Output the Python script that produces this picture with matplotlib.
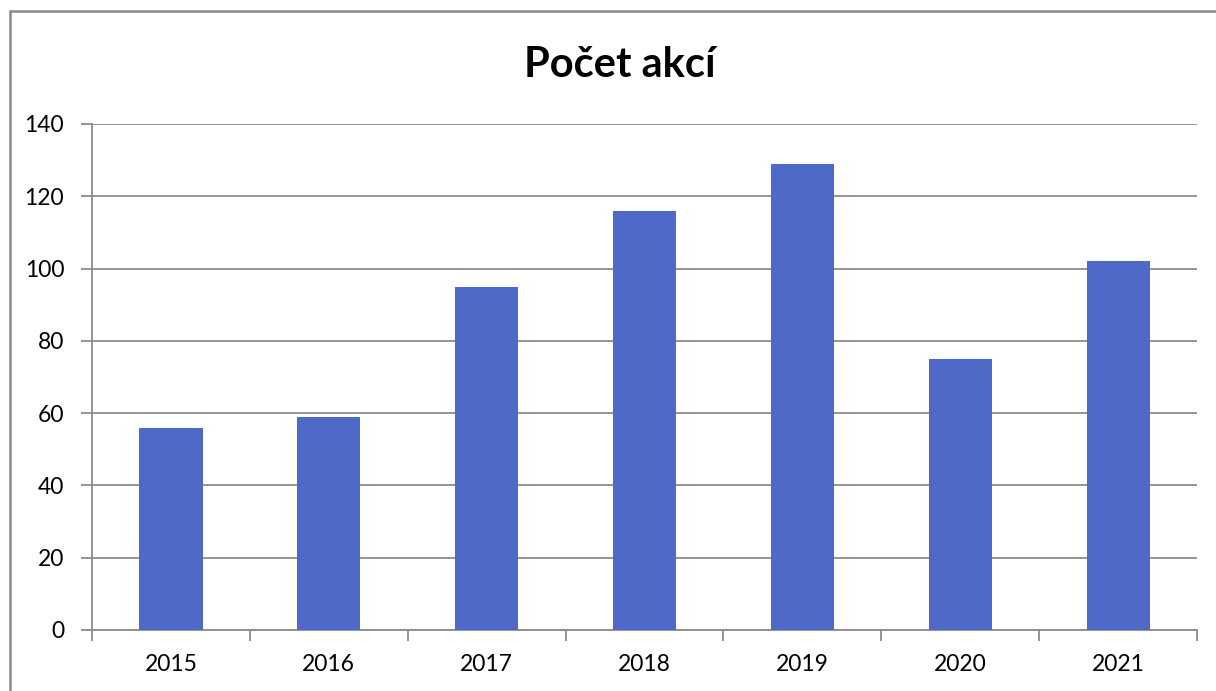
import matplotlib
matplotlib.use("Agg")
import matplotlib.pyplot as plt
from matplotlib.patches import Rectangle

years = ["2015", "2016", "2017", "2018", "2019", "2020", "2021"]
counts = [56, 59, 95, 116, 129, 75, 102]
title = "Počet akcí"

plt.rcParams['font.family'] = ['Lato', 'DejaVu Sans']

fig = plt.figure(figsize=(12.16, 6.91), dpi=100)
W, H = 1216, 691
ax = fig.add_axes([92 / W, 1 - 630 / H, (1197 - 92) / W, (630 - 124) / H])

x = list(range(len(years)))
ax.bar(x, counts, width=0.4, color="#4f69c8", zorder=3)

ax.set_xlim(-0.5, len(years) - 0.5)
ax.set_ylim(0, 140)
ax.set_yticks(range(0, 141, 20))
ax.yaxis.grid(True, color="#8c8c8c", linewidth=1.3, zorder=0)

ax.set_xticks([i - 0.5 for i in range(len(years) + 1)])
ax.set_xticklabels([])
ax.set_xticks(x, minor=True)
ax.set_xticklabels(years, minor=True)
ax.tick_params(axis='x', which='major', length=8, width=1.3, color="#8c8c8c", direction='out')
ax.tick_params(axis='x', which='minor', length=0, pad=17, labelsize=16.5)
ax.tick_params(axis='y', length=8, width=1.3, color="#8c8c8c", pad=12, labelsize=16.5)

for s in ['top', 'right']:
    ax.spines[s].set_visible(False)
for s in ['left', 'bottom']:
    ax.spines[s].set_color("#8c8c8c")
    ax.spines[s].set_linewidth(1.3)

fig.text(620 / W, 1 - 65 / H, title, ha='center', va='center', fontsize=30, fontweight='bold')

fig.patches.append(Rectangle((10 / W, -0.1), 1.2, 1 - 11 / H + 0.1, transform=fig.transFigure,
                             fill=False, edgecolor="#898989", linewidth=1.8))

fig.savefig("out.png", dpi=100)
